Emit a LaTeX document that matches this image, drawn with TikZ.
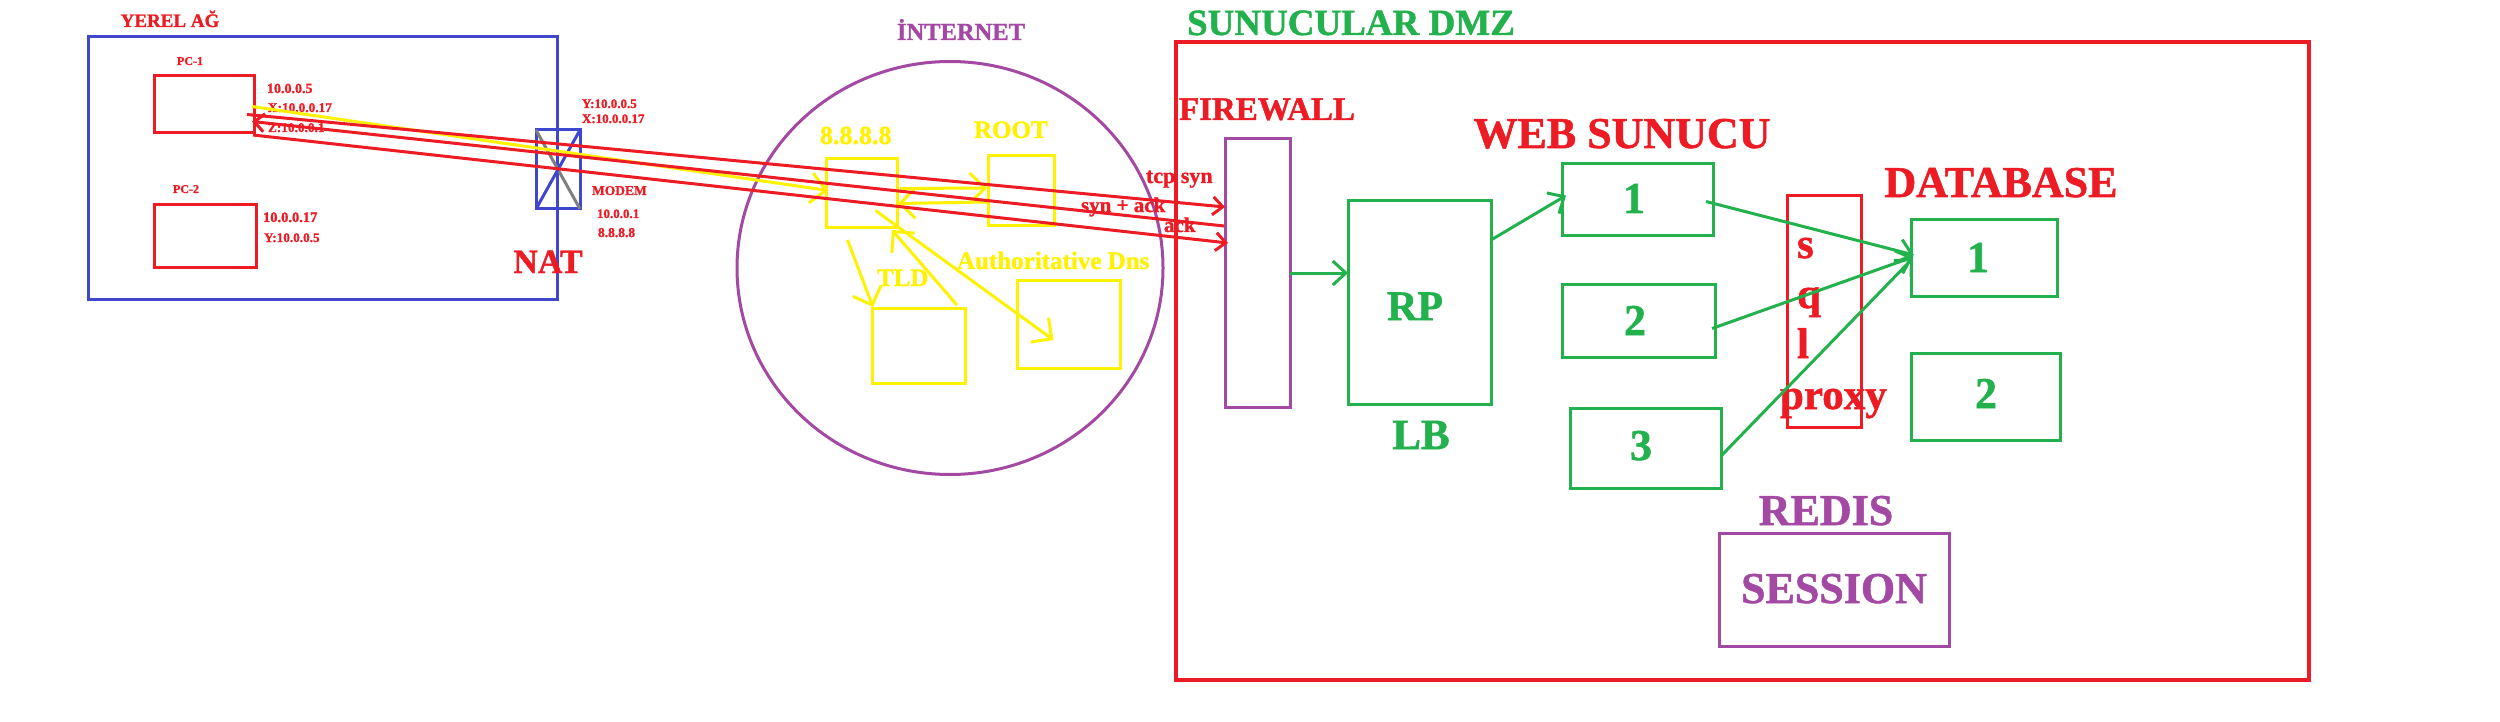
\documentclass[tikz,border=0pt]{standalone}
\usepackage{fontspec}
\setmainfont{Liberation Serif}
\newfontfamily\paintbold{Liberation Serif Bold}[FakeBold=1.2]
\usetikzlibrary{arrows.meta,calc,shapes.geometric}
\definecolor{pred}{RGB}{237,28,36}
\definecolor{pgreen}{RGB}{34,177,76}
\definecolor{pblue}{RGB}{63,72,204}
\definecolor{ppurple}{RGB}{163,73,164}
\definecolor{pyellow}{RGB}{255,242,0}
\definecolor{pgray}{RGB}{127,127,127}
\newcommand{\fz}[1]{\paintbold\fontsize{#1}{#1}\selectfont}
\begin{document}
\begin{tikzpicture}[x=1pt,y=-1pt,
  lbl/.style={inner sep=0pt, outer sep=0pt, anchor=base},
  lblw/.style={lbl, anchor=base west},
  box/.style={draw, line width=3pt, inner sep=0pt, outer sep=0pt, anchor=north west},
  conn/.style={line width=3pt},
  ybarb/.style={conn, pyellow, -{Straight Barb[length=15pt,width=30pt]}},
  rbarb/.style={conn, pred, -{Straight Barb[length=10pt,width=18pt]}},
  gbarb/.style={conn, pgreen, -{Straight Barb[length=13pt,width=24pt]}}
]
\useasboundingbox (0,0) rectangle (2500,722);
\fill[white] (0,0) rectangle (2500,722);

% ---------- YEREL AG ----------
\node[lbl, pred, font=\fz{19}] (yerel) at (170,27) {YEREL AĞ};
\node[box, pblue, minimum width=469, minimum height=262] (lan) at (88,37) {};
\node[lbl, pred, font=\fz{12}] (pc1lbl) at (190,65) {PC-1};
\node[box, pred, minimum width=100, minimum height=57] (pc1) at (154,76) {};
\node[lbl, pred, font=\fz{12}] (pc2lbl) at (186,193) {PC-2};
\node[box, pred, minimum width=102, minimum height=62] (pc2) at (154,205) {};
\node[lblw, pred, font=\fz{14}] (pc1ip) at (267,93) {10.0.0.5};
\node[lblw, pred, font=\fz{13.3}] (pc1x) at (268,112) {X:10.0.0.17};
\node[lblw, pred, font=\fz{13.3}] (pc1z) at (268,132) {Z:10.0.0.1};
\node[lblw, pred, font=\fz{14.5}] (pc2ip) at (263,222) {10.0.0.17};
\node[lblw, pred, font=\fz{13.2}] (pc2y) at (264,242) {Y:10.0.0.5};
\node[lbl, pred, font=\fz{34}] (nat) at (548,273) {NAT};

% modem
\node[box, pblue, minimum width=44, minimum height=79] (modem) at (536,130) {};
\draw[conn, pgray] (modem.north west) -- (modem.south east);
\draw[conn, pblue] (modem.south west) -- (modem.north east);
\node[lblw, pred, font=\fz{13}] (my) at (582,108) {Y:10.0.0.5};
\node[lblw, pred, font=\fz{13}] (mx) at (582,123) {X:10.0.0.17};
\node[lblw, pred, font=\fz{13.5}] (mlbl) at (592,195) {MODEM};
\node[lblw, pred, font=\fz{13}] (mip1) at (597,218) {10.0.0.1};
\node[lblw, pred, font=\fz{13.5}] (mip2) at (598,237) {8.8.8.8};

% ---------- INTERNET ----------
\node[lbl, ppurple, font=\fz{24.5}] (inetlbl) at (961,40) {İNTERNET};
\node[draw=ppurple, ellipse, line width=3pt, inner sep=0pt, minimum width=426, minimum height=413] (inet) at (950,268) {};
\node[lblw, pyellow, font=\fz{26}] (dns8lbl) at (820,144) {8.8.8.8};
\node[box, pyellow, minimum width=71, minimum height=69] (dns8) at (826,159) {};
\node[lblw, pyellow, font=\fz{25}] (rootlbl) at (974,138) {ROOT};
\node[box, pyellow, minimum width=66, minimum height=70] (root) at (988,156) {};
\node[lblw, pyellow, font=\fz{25}] (tldlbl) at (877,286) {TLD};
\node[box, pyellow, minimum width=93, minimum height=75] (tld) at (872,308) {};
\node[lblw, pyellow, font=\fz{25}] (authlbl) at (957,269) {Authoritative Dns};
\node[box, pyellow, minimum width=103, minimum height=88] (auth) at (1017,280) {};

% ---------- SUNUCULAR DMZ ----------
\node[lbl, pgreen, font=\fz{37}] (dmzlbl) at (1351,35) {SUNUCULAR DMZ};
\node[box, pred, line width=3.5pt, minimum width=1133, minimum height=638] (dmz) at (1176,42) {};
\node[lbl, pred, font=\fz{33}] (fwlbl) at (1267,120) {FIREWALL};
\node[box, ppurple, minimum width=65, minimum height=268] (fw) at (1225,139) {};
\node[box, pgreen, minimum width=143, minimum height=203] (rp) at (1348,201) {};
\node[lbl, pgreen, font=\fz{42}] (rptxt) at (1415,320) {RP};
\node[lbl, pgreen, font=\fz{43}] (lb) at (1421,449) {LB};
\node[lbl, pred, font=\fz{44}] (weblbl) at (1622,148) {WEB SUNUCU};
\node[box, pgreen, minimum width=151, minimum height=71] (web1) at (1562,164) {};
\node[lbl, pgreen, font=\fz{44}] (w1t) at (1634,213) {1};
\node[box, pgreen, minimum width=153, minimum height=73] (web2) at (1562,284) {};
\node[lbl, pgreen, font=\fz{44}] (w2t) at (1635,335) {2};
\node[box, pgreen, minimum width=151, minimum height=80] (web3) at (1570,408) {};
\node[lbl, pgreen, font=\fz{44}] (w3t) at (1641,460) {3};
\node[box, pred, minimum width=74, minimum height=231] (sql) at (1787,196) {};
\node[lblw, pred, font=\fz{43}] (sq1) at (1797,258) {s};
\node[lblw, pred, font=\fz{43}] (sq2) at (1797,308) {q};
\node[lblw, pred, font=\fz{43}] (sq3) at (1797,358) {l};
\node[lblw, pred, font=\fz{43}] (sq4) at (1780,409) {proxy};
\node[lbl, pred, font=\fz{44}] (dblbl) at (2001,197) {DATABASE};
\node[box, pgreen, minimum width=146, minimum height=76] (db1) at (1911,220) {};
\node[lbl, pgreen, font=\fz{44}] (d1t) at (1978,272) {1};
\node[box, pgreen, minimum width=149, minimum height=87] (db2) at (1911,353) {};
\node[lbl, pgreen, font=\fz{44}] (d2t) at (1986,408) {2};
\node[lbl, ppurple, font=\fz{44}] (redis) at (1826,525) {REDIS};
\node[box, ppurple, minimum width=230, minimum height=113] (sess) at (1719,533) {};
\node[lbl, ppurple, font=\fz{44}] (sesst) at (1834,603) {SESSION};

% ---------- DNS arrows (yellow) ----------
\draw[ybarb] ($(pc1.east)+(-2,2)$) -- ($(dns8.west)+(2,-3)$);
\draw[ybarb] ($(dns8.east)+(3,-5)$) -- ($(root.west)+(-1,-3)$);
\draw[ybarb] ($(root.west)+(-1,11)$) -- ($(dns8.east)+(1,10)$);
\draw[ybarb] ($(dns8.south)+(-14,12)$) -- ($(tld.north west)+(1,-1)$);
\draw[ybarb] ($(tld.north east)+(-8,-3)$) -- ($(dns8.south east)+(-5,2)$);
\draw[ybarb] ($(dns8.center)+(14,17)$) -- ($(auth.center)+(-15,16)$);

% ---------- TCP handshake (red) ----------
\draw[rbarb] ($(pc1.east)+(-7,10)$) -- ($(fw.north west)+(0,68)$);
\draw[rbarb] ($(fw.north west)+(-1,87)$) -- ($(pc1.east)+(-2,17)$);
\draw[rbarb] ($(pc1.south east)+(-1,2)$) -- ($(fw.north west)+(3,104)$);
\node[lblw, pred, font=\fz{22}] (tcpsyn) at (1146,183) {tcp syn};
\node[lblw, pred, font=\fz{21}] (synack) at (1081,212) {syn + ack};
\node[lblw, pred, font=\fz{21}] (ack) at (1164,232) {ack};

% ---------- DMZ flow (green) ----------
\draw[gbarb] (fw.east) -- (rp.west |- fw.east);
\draw[gbarb] ($(rp.north east)+(0,39)$) -- ($(web1.west)+(4,-4)$);
\draw[gbarb] ($(web1.east)+(-7,2)$) -- ($(db1.west)+(3,-3)$);
\draw[gbarb] ($(web2.east)+(-3,8)$) -- ($(db1.west)+(2,-1)$);
\draw[gbarb] ($(web3.east)+(1,7)$) -- ($(db1.west)+(2,0)$);
\end{tikzpicture}
\end{document}
